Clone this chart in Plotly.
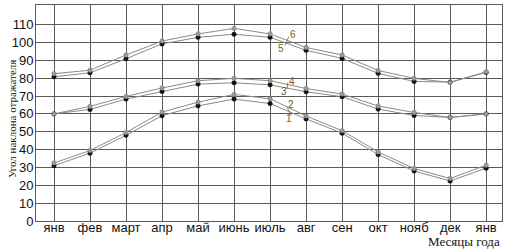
import numpy as np
import plotly.graph_objects as go

months = ["янв", "фев", "март", "апр", "май", "июнь", "июль", "авг", "сен", "окт", "нояб", "дек", "янв"]
s1 = [31, 38, 48, 59, 64.5, 68.3, 65.8, 57.2, 49.2, 37.2, 28, 22.4, 29.6]
s2 = [32.5, 39.5, 49.6, 61, 66.6, 70.9, 68.5, 58.8, 50.6, 38.7, 29.4, 23.8, 31.3]
s3 = [60, 62.5, 68.3, 72.6, 76.7, 77.4, 76.3, 72.4, 69.6, 62.7, 59.1, 58, 60]
s4 = [60, 64.2, 69.8, 74.5, 78.6, 79.9, 78.6, 74.2, 71.1, 64.4, 60.8, 58, 60]
s5 = [80.8, 83, 90.9, 99.2, 102.9, 104.6, 102.9, 95.6, 91.1, 82.7, 78.2, 77.8, 83.2]
s6 = [82.5, 84.5, 93, 100.8, 104.8, 107.9, 104.8, 97.2, 93, 84.3, 79.9, 77.6, 83.6]
series_names = ["1", "2", "3", "4", "5", "6"]
yticks = list(range(0, 111, 10))

x = list(range(len(months)))
fig = go.Figure()
all_series = [s1, s2, s3, s4, s5, s6]
for i, s in enumerate(all_series):
    lower = i % 2 == 0
    fig.add_trace(go.Scatter(
        x=x, y=s, mode="lines+markers", name=series_names[i],
        line=dict(color="#8a8a8a", width=1),
        marker=dict(symbol="circle", size=4.5,
                    color="#111111" if lower else "#9a9a9a",
                    line=dict(width=0.5, color="#111111" if lower else "#777777")),
        showlegend=False,
    ))

lab_col = "#7a5a2e"
anns = []
# label positions derived from series values near July-August segment
specs = [(0, 1, 6.53, -4.1, 6.58, 2.3), (2, 3, 6.39, -2.5, 6.61, 2.5), (4, 5, 6.31, -4.2, 6.64, 4.3)]
for lo, hi, xlo, dlo, xhi, dhi in specs:
    ylo = float(np.interp(xlo, x, all_series[lo])) + dlo
    yhi = float(np.interp(xhi, x, all_series[hi])) + dhi
    anns.append(dict(x=xhi, y=yhi, text=series_names[hi], showarrow=False,
                     font=dict(family="Liberation Sans", size=10, color=lab_col)))
    anns.append(dict(x=xhi - 0.12, y=yhi - 1.0, ax=xlo + 0.08, ay=ylo + 1.0,
                     axref="x", ayref="y", xref="x", yref="y", text="",
                     showarrow=True, arrowhead=0, arrowwidth=0.8, arrowcolor="#666666"))
    anns.append(dict(x=xlo, y=ylo, text=series_names[lo], showarrow=False,
                     font=dict(family="Liberation Sans", size=10, color=lab_col)))

anns.append(dict(xref="paper", yref="paper", x=1.0, y=0, yshift=-20, xanchor="right", yanchor="middle",
                 text="Месяцы года", showarrow=False,
                 font=dict(family="Liberation Serif", size=13, color="#111")))
anns.append(dict(xref="paper", yref="paper", x=0, y=0.472, xshift=-24, xanchor="center", yanchor="middle",
                 text="Угол наклона отражателя", textangle=-90, showarrow=False,
                 font=dict(family="Liberation Serif", size=11, color="#111")))
fig.update_layout(
    width=513, height=249,
    margin=dict(l=36, r=11, t=5, b=28, autoexpand=False),
    paper_bgcolor="white", plot_bgcolor="white",
    annotations=anns,
    font=dict(family="Liberation Sans", size=13, color="#111"),
)
fig.update_xaxes(range=[-0.5, 12.44], tickvals=x, ticktext=months, showgrid=True,
                 gridcolor="#5a5a5a", gridwidth=1, showline=True, linecolor="#5a5a5a",
                 mirror=True, ticks="", zeroline=False, tickfont=dict(size=13),
                 ticklabelstandoff=-6)
fig.update_yaxes(range=[0, 121], tickvals=yticks, showgrid=True, gridcolor="#5a5a5a",
                 gridwidth=1, showline=True, linecolor="#5a5a5a", mirror=True, ticks="",
                 zeroline=False, ticklabelstandoff=-1, tickfont=dict(size=13))
fig.write_html("out.html", config={"displayModeBar": False},
               post_script="document.body.style.margin='0';document.body.style.padding='0';")
